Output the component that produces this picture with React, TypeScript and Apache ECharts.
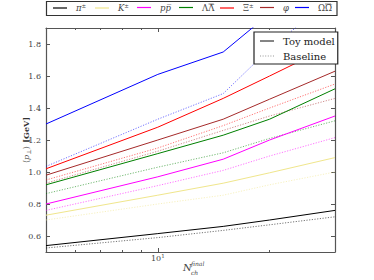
import React, { useEffect, useRef } from "react";
import * as echarts from "echarts";

const nch = [5, 10, 15, 20, 30];
const species = ["π±", "K±", "pp̄", "ΛΛ̄", "Ξ±", "φ", "ΩΩ̄"];
const speciesColors = ["#000000", "#f0e68c", "#ff00ff", "#008000", "#ff0000", "#a52a2a", "#0000ff"];

const toyPi = [0.54, 0.615, 0.66, 0.7, 0.76];
const toyK = [0.73, 0.855, 0.93, 0.995, 1.09];
const toyP = [0.8, 0.97, 1.08, 1.2, 1.35];
const toyLambda = [0.92, 1.115, 1.23, 1.33, 1.52];
const toyXi = [1.02, 1.28, 1.46, 1.6, 1.8];
const toyPhi = [0.98, 1.2, 1.33, 1.455, 1.63];
const toyOmega = [1.3, 1.61, 1.75, 1.99, 2.3];

const basePi = [0.525, 0.59, 0.635, 0.67, 0.72];
const baseK = [0.7, 0.8, 0.855, 0.92, 1.0];
const baseP = [0.76, 0.915, 1.01, 1.1, 1.215];
const baseLambda = [0.865, 1.03, 1.12, 1.21, 1.32];
const baseXi = [0.95, 1.15, 1.29, 1.4, 1.55];
const basePhi = [0.93, 1.13, 1.26, 1.35, 1.46];
const baseOmega = [1.035, 1.33, 1.49, 1.77, 2.1];

const yTicks = [0.6, 0.8, 1.0, 1.2, 1.4, 1.6, 1.8];
const xMajorTicks = [10];
const xMinorTicks = [6, 7, 8, 9, 20];
const xLabelTicks = [10];

const toyAll = [toyPi, toyK, toyP, toyLambda, toyXi, toyPhi, toyOmega];
const baseAll = [basePi, baseK, baseP, baseLambda, baseXi, basePhi, baseOmega];

// layout: left edge of each legend handle in the top legend box
const legendLefts = [53, 95, 137, 179, 220, 260, 295];

const SERIF = '"DejaVu Serif", "Liberation Serif", serif';
const DOTS = "path://M0,0h1v1h-1z M2.5,0h1v1h-1z M5,0h1v1h-1z M7.5,0h1v1h-1z M10,0h1v1h-1z M12.5,0h1v1h-1z";

const legendRich: Record<string, string> = {
  "π±": "{i|π}{u|±}",
  "K±": "{i|K}{u|±}",
  "pp̄": "{i|pp\u0305}",
  "ΛΛ̄": "{r|Λ}{r|Λ\u0305}",
  "Ξ±": "{r|Ξ}{u|±}",
  "φ": "{i|φ}",
  "ΩΩ̄": "{r|Ω}{r|Ω\u0305}",
};

export default function App() {
  const ref = useRef<HTMLDivElement>(null);
  useEffect(() => {
    if (!ref.current) return;
    const chart = echarts.init(ref.current, undefined, { renderer: "svg" });
    const lxmin = Math.log10(5);
    const lxmax = Math.log10(30);
    const series: any[] = [];
    species.forEach((name, k) => {
      series.push({
        name: name + " base",
        type: "line",
        xAxisIndex: 0,
        yAxisIndex: 0,
        symbol: "none",
        silent: true,
        clip: true,
        data: nch.map((n, i) => [n, baseAll[k][i]]),
        lineStyle: { color: speciesColors[k], width: 1, type: [1.2, 1.5], opacity: 0.55 },
        itemStyle: { color: speciesColors[k] },
      });
    });
    species.forEach((name, k) => {
      series.push({
        name,
        type: "line",
        xAxisIndex: 0,
        yAxisIndex: 0,
        symbol: "none",
        silent: true,
        clip: true,
        data: nch.map((n, i) => [n, toyAll[k][i]]),
        lineStyle: { color: speciesColors[k], width: 1 },
        itemStyle: { color: speciesColors[k] },
      });
    });
    series.push({
      name: "Toy model",
      type: "line",
      symbol: "none",
      data: [],
      lineStyle: { color: "#333", width: 1 },
      itemStyle: { color: "#333" },
    });
    series.push({
      name: "Baseline",
      type: "line",
      symbol: "none",
      data: [],
      lineStyle: { color: "#999", width: 1 },
      itemStyle: { color: "#999" },
    });

    const frame = { show: true, lineStyle: { color: "#555", width: 1.2 } };
    const valX = (position: string, ticks: number[], len: number, showLine: boolean, label: boolean) => ({
      type: "value",
      position,
      min: lxmin,
      max: lxmax,
      axisLine: showLine ? frame : { show: false },
      axisTick: { show: true, inside: true, length: len, customValues: ticks.map((t) => Math.log10(t)), lineStyle: { color: "#555", width: 1 } },
      axisLabel: label
        ? {
            show: true,
            customValues: xLabelTicks.map((t) => Math.log10(t)),
            formatter: () => "{b|10}{s|1}",
            margin: 1,
            rich: {
              b: { fontFamily: SERIF, fontSize: 8, color: "#444" },
              s: { fontFamily: SERIF, fontSize: 5.5, color: "#444", padding: [0, 0, 5, 0] },
            },
          }
        : { show: false },
      splitLine: { show: false },
    });

    const speciesLegends = species.map((name, k) => ({
      data: [{ name, icon: "rect" }],
      left: legendLefts[k],
      top: 3,
      orient: "horizontal",
      selectedMode: false,
      itemWidth: 14,
      itemHeight: 1.2,
      symbolKeepAspect: false,
      padding: 0,
      itemStyle: { borderWidth: 0 },
      lineStyle: { width: 0 },
      formatter: (n: string) => "{g| }" + (legendRich[n] || n),
      textStyle: {
        rich: {
          g: { width: 4, fontSize: 8 },
          i: { fontFamily: SERIF, fontSize: 8.5, fontStyle: "italic", color: "#444" },
          r: { fontFamily: SERIF, fontSize: 8.5, color: "#444" },
          u: { fontFamily: SERIF, fontSize: 5.5, color: "#444", padding: [0, 0, 4, 0] },
        },
      },
    }));

    chart.setOption({
      animation: false,
      backgroundColor: "#ffffff",
      grid: { left: 46, right: 39, top: 28, bottom: 28, containLabel: false },
      xAxis: [
        { type: "log", logBase: 10, min: 5, max: 30, show: false, splitLine: { show: false } },
        valX("bottom", xMajorTicks, 4, true, true),
        valX("bottom", xMinorTicks, 2, false, false),
        valX("top", xMajorTicks, 4, true, false),
        valX("top", xMinorTicks, 2, false, false),
      ],
      yAxis: [
        {
          type: "value",
          position: "left",
          min: 0.5,
          max: 1.9,
          axisLine: frame,
          axisTick: { show: true, inside: true, length: 4, customValues: yTicks, lineStyle: { color: "#555", width: 1 } },
          axisLabel: {
            customValues: yTicks,
            formatter: (v: number) => v.toFixed(1),
            fontFamily: SERIF,
            fontSize: 8,
            color: "#444",
            margin: 5,
          },
          splitLine: { show: false },
        },
        {
          type: "value",
          position: "right",
          min: 0.5,
          max: 1.9,
          axisLine: frame,
          axisTick: { show: true, inside: true, length: 4, customValues: yTicks, lineStyle: { color: "#555", width: 1 } },
          axisLabel: { show: false },
          splitLine: { show: false },
        },
      ],
      legend: [
        ...speciesLegends,
        {
          data: [
            { name: "Toy model", icon: "rect" },
            { name: "Baseline", icon: DOTS },
          ],
          left: 254,
          top: 32,
          orient: "vertical",
          selectedMode: false,
          itemWidth: 14,
          itemHeight: 1.2,
          itemGap: 5,
          symbolKeepAspect: false,
          padding: [4, 3, 3, 6],
          backgroundColor: "#ffffff",
          borderColor: "#222",
          borderWidth: 1.2,
          itemStyle: { borderWidth: 0 },
          lineStyle: { width: 0 },
          textStyle: { fontFamily: SERIF, fontSize: 10, color: "#222", padding: [0, 0, 0, 4] },
        },
      ],
      graphic: [
        {
          type: "rect",
          shape: { x: 46.5, y: 1.5, width: 290.5, height: 14 },
          style: { fill: "none", stroke: "#333", lineWidth: 1.2 },
          z: 1,
        },
        { type: "line", shape: { x1: 208.5, y1: 4, x2: 213.8, y2: 4 }, style: { stroke: "#555", lineWidth: 0.7 } },
        { type: "line", shape: { x1: 325, y1: 4, x2: 331, y2: 4 }, style: { stroke: "#555", lineWidth: 0.7 } },
        {
          type: "text",
          x: 26,
          y: 140,
          rotation: Math.PI / 2,
          style: {
            text: "{m|⟨}{i|p}{s|⊥}{m|⟩} {b|[GeV]}",
            align: "center",
            verticalAlign: "middle",
            rich: {
              m: { fontFamily: SERIF, fontSize: 8, fill: "#555" },
              i: { fontFamily: SERIF, fontSize: 8, fontStyle: "italic", fill: "#555" },
              s: { fontFamily: SERIF, fontSize: 6, fill: "#555", padding: [4, 0, 0, 0] },
              b: { fontFamily: SERIF, fontSize: 8, fontWeight: "bold", fill: "#333" },
            },
          },
        },
        { type: "text", x: 183, y: 262, style: { text: "N", font: 'italic 10px "DejaVu Serif"', fill: "#444" } },
        { type: "text", x: 191, y: 260, style: { text: "final", font: 'italic 6px "DejaVu Serif"', fill: "#444" } },
        { type: "text", x: 191, y: 269, style: { text: "ch", font: 'italic 6px "DejaVu Serif"', fill: "#444" } },
      ],
      series,
    });
    return () => chart.dispose();
  }, []);
  return <div ref={ref} style={{ position: "absolute", left: 0, top: 0, width: 374, height: 280 }} />;
}
